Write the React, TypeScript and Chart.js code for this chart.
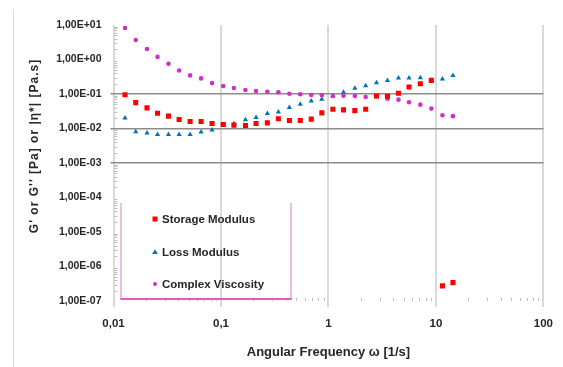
import React, { useEffect, useRef } from 'react';
import { Chart, registerables } from 'chart.js';

Chart.register(...registerables);

// Angular frequency [1/s]
const frequency = [
  0.0128, 0.0161, 0.0205, 0.0257, 0.0325, 0.0408, 0.0516, 0.0653, 0.0826, 0.105,
  0.132, 0.169, 0.212, 0.27, 0.342, 0.433, 0.547, 0.692, 0.868, 1.1,
  1.38, 1.76, 2.22, 2.8, 3.54, 4.48, 5.62, 7.16, 9.06, 11.5, 14.4,
];
const storageModulus = [
  0.0955, 0.0562, 0.0395, 0.0278, 0.0228, 0.0182, 0.0159, 0.0159, 0.0139, 0.013,
  0.0125, 0.0122, 0.0139, 0.0146, 0.0191, 0.017, 0.017, 0.0187, 0.0283, 0.0362,
  0.0346, 0.033, 0.0362, 0.0876, 0.0859, 0.105, 0.159, 0.198, 0.248, 2.74e-7, 3.41e-7,
];
const lossModulus = [
  0.0203, 0.00803, 0.00736, 0.00671, 0.00671, 0.00671, 0.00671, 0.00787, 0.00899, 0.0122,
  0.0137, 0.0178, 0.0207, 0.0271, 0.0303, 0.0403, 0.0505, 0.0629, 0.0703, 0.0876,
  0.112, 0.146, 0.173, 0.212, 0.248, 0.289, 0.289, 0.295, 0.248, 0.27, 0.346,
];
const complexViscosity = [
  8.15, 3.67, 2.02, 1.19, 0.747, 0.482, 0.346, 0.283, 0.207, 0.17,
  0.149, 0.13, 0.122, 0.116, 0.112, 0.102, 0.098, 0.0936, 0.0918, 0.0876,
  0.0894, 0.0876, 0.082, 0.0859, 0.0732, 0.0685, 0.0577, 0.0492, 0.0377, 0.0243, 0.0228,
];

const seriesNames = ['Storage Modulus', 'Loss Modulus', 'Complex Viscosity'];
const seriesColors = ['#ff0000', '#0070c0', '#d12fc4'];
const seriesStyles = ['rect', 'triangle', 'circle'];

const xTickValues = [0.01, 0.1, 1, 10, 100];
const xTickLabels = ['0,01', '0,1', '1', '10', '100'];
const yMajorGrid = [0.1, 0.01, 0.001];

const xTitle = 'Angular Frequency ω [1/s]';
const yTitle = "G' or G'' [Pa] or |η*| [Pa.s]";

const FONT = '"Liberation Sans", Arial, sans-serif';
const TEXT = '#262626';

const isDecade = (v: number) => {
  const l = Math.log10(v);
  return Math.abs(l - Math.round(l)) < 1e-6;
};
const sci = (v: number) => {
  const e = Math.round(Math.log10(v));
  return '1,00E' + (e < 0 ? '-' : '+') + String(Math.abs(e)).padStart(2, '0');
};
const near = (a: number, b: number) => Math.abs(Math.log10(a) - Math.log10(b)) < 1e-6;

const decorPlugin = {
  id: 'decor',
  beforeDraw(chart: any) {
    const ctx = chart.ctx;
    ctx.save();
    ctx.strokeStyle = '#d9d9d9';
    ctx.lineWidth = 1;
    ctx.beginPath();
    ctx.moveTo(13.5, 10);
    ctx.lineTo(13.5, chart.height);
    ctx.stroke();
    ctx.restore();
  },
  beforeDatasetsDraw(chart: any) {
    const { ctx, chartArea: ca, scales } = chart;
    const xs = scales.x;
    const ys = scales.y;
    ctx.save();
    ctx.strokeStyle = '#bdbdbd';
    ctx.lineWidth = 1;
    ctx.beginPath();
    for (let n = -7; n <= 0; n++) {
      for (let k = 2; k <= 9; k++) {
        const y = Math.round(ys.getPixelForValue(k * Math.pow(10, n))) + 0.5;
        ctx.moveTo(ca.left + 1, y);
        ctx.lineTo(ca.left + 4, y);
      }
    }
    for (let n = -2; n <= 1; n++) {
      for (let k = 2; k <= 9; k++) {
        const x = Math.round(xs.getPixelForValue(k * Math.pow(10, n))) + 0.5;
        ctx.moveTo(x, ca.bottom - 3);
        ctx.lineTo(x, ca.bottom);
      }
    }
    ctx.stroke();
    ctx.restore();
  },
  afterDatasetsDraw(chart: any) {
    const { ctx, chartArea: ca } = chart;
    ctx.save();
    // legend box
    const bl = ca.left + 7.5;
    const br = ca.left + 177.5;
    const bt = ca.top + 178;
    const bb = ca.bottom - 2;
    ctx.strokeStyle = '#f0a6df';
    ctx.lineWidth = 1.5;
    ctx.beginPath();
    ctx.moveTo(bl, bt);
    ctx.lineTo(bl, bb);
    ctx.moveTo(br, bt);
    ctx.lineTo(br, bb);
    ctx.stroke();
    ctx.strokeStyle = '#de5cc4';
    ctx.lineWidth = 2;
    ctx.beginPath();
    ctx.moveTo(bl - 0.75, bb);
    ctx.lineTo(br + 0.75, bb);
    ctx.stroke();

    const itemYs = [bt + 16, bt + 49, bt + 81];
    const mx = ca.left + 41.5;
    const tx = ca.left + 48.5;
    ctx.font = 'bold 11.5px ' + FONT;
    ctx.textBaseline = 'middle';
    ctx.textAlign = 'left';
    seriesNames.forEach((name, i) => {
      const y = itemYs[i];
      ctx.fillStyle = seriesColors[i];
      if (i === 0) {
        ctx.fillRect(mx - 2.5, y - 2.5, 5, 5);
      } else if (i === 1) {
        ctx.beginPath();
        ctx.moveTo(mx, y - 2.8);
        ctx.lineTo(mx + 2.8, y + 2);
        ctx.lineTo(mx - 2.8, y + 2);
        ctx.closePath();
        ctx.fill();
      } else {
        ctx.beginPath();
        ctx.arc(mx, y, 2, 0, Math.PI * 2);
        ctx.fill();
      }
      ctx.fillStyle = TEXT;
      ctx.fillText(name, tx, y + 0.5);
    });

    // y axis title
    ctx.translate(35, 146);
    ctx.rotate(-Math.PI / 2);
    ctx.textAlign = 'center';
    ctx.font = 'bold 12px ' + FONT;
    (ctx as any).letterSpacing = '1px';
    ctx.fillStyle = TEXT;
    ctx.fillText(yTitle, 0, 0);
    ctx.restore();
  },
};

export default function App() {
  const ref = useRef<HTMLCanvasElement | null>(null);

  useEffect(() => {
    if (!ref.current) return;
    const mk = (v: number[]) => frequency.map((f, i) => ({ x: f, y: v[i] }));
    const chart = new Chart(ref.current, {
      type: 'scatter',
      data: {
        datasets: [
          {
            label: seriesNames[0],
            data: mk(storageModulus),
            backgroundColor: seriesColors[0],
            borderColor: seriesColors[0],
            pointStyle: seriesStyles[0] as any,
            pointRadius: 3.6,
            borderWidth: 0,
            order: 0,
          },
          {
            label: seriesNames[1],
            data: mk(lossModulus),
            backgroundColor: seriesColors[1],
            borderColor: seriesColors[1],
            pointStyle: seriesStyles[1] as any,
            pointRadius: 3,
            borderWidth: 0,
            order: 2,
          },
          {
            label: seriesNames[2],
            data: mk(complexViscosity),
            backgroundColor: seriesColors[2],
            borderColor: seriesColors[2],
            pointStyle: seriesStyles[2] as any,
            pointRadius: 2.3,
            borderWidth: 0,
            order: 1,
          },
        ],
      },
      options: {
        animation: false,
        responsive: false,
        devicePixelRatio: 1,
        layout: { padding: { top: 25, right: 19, left: 0, bottom: 0 } },
        plugins: {
          legend: { display: false },
          tooltip: { enabled: false },
        },
        scales: {
          x: {
            type: 'logarithmic',
            min: 0.01,
            max: 100,
            afterFit: (s: any) => {
              s.height = 66;
            },
            border: { display: false },
            grid: {
              color: (c: any) => (c.tick && isDecade(c.tick.value) ? '#d9d9d9' : 'rgba(0,0,0,0)'),
              lineWidth: 2,
              tickLength: 6,
            },
            ticks: {
              autoSkip: false,
              maxRotation: 0,
              padding: 10,
              color: TEXT,
              font: { family: FONT, size: 11.5, weight: 'bold' },
              callback: (v: any) => {
                const idx = xTickValues.findIndex((t) => near(t, Number(v)));
                return idx >= 0 ? xTickLabels[idx] : '';
              },
            },
            title: {
              display: true,
              text: xTitle,
              color: TEXT,
              font: { family: FONT, size: 13, weight: 'bold' },
              padding: { top: 0, bottom: 7 },
            },
          },
          y: {
            type: 'logarithmic',
            min: 1e-7,
            max: 10,
            afterFit: (s: any) => {
              s.width = 113.5;
            },
            border: { display: false },
            grid: {
              color: (c: any) =>
                c.tick && yMajorGrid.some((g) => near(g, c.tick.value)) ? '#8c8c8c' : 'rgba(0,0,0,0)',
              lineWidth: 1.5,
              tickLength: 3,
            },
            ticks: {
              autoSkip: false,
              padding: 9,
              color: TEXT,
              font: { family: FONT, size: 10.5, weight: 'bold' },
              callback: (v: any) => (isDecade(Number(v)) ? sci(Number(v)) : ''),
            },
          },
        },
      },
      plugins: [decorPlugin],
    });
    return () => chart.destroy();
  }, []);

  return (
    <div style={{ position: 'fixed', left: 0, top: 0, width: 563, height: 367, background: '#fff' }}>
      <canvas ref={ref} width={563} height={367} style={{ display: 'block' }} />
    </div>
  );
}
